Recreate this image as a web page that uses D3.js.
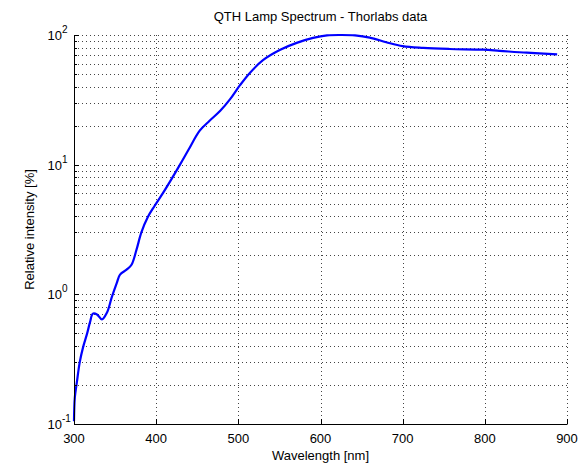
<!DOCTYPE html>
<html>
<head>
<meta charset="utf-8">
<script src="https://cdn.jsdelivr.net/npm/d3@7"></script>
<style>
	body { margin: 0; background: #fff; }
	text { font-family: "Liberation Sans", Arial, sans-serif; fill: #000; }
</style>
</head>
<body>
<div id="idChart"></div>
<script>
// values
var aWavelength = [300, 301, 303.5, 307, 311, 316, 319.5, 323, 328, 334, 340, 346, 352, 356, 364, 370, 376, 382, 390, 398, 408, 419, 429, 439, 453, 465, 478, 490, 502, 514, 530, 551, 571, 591, 608, 625, 642, 660, 680, 700, 725, 757, 798, 818, 851, 888];
var aIntensity = [0.105, 0.16, 0.21, 0.30, 0.39, 0.50, 0.61, 0.71, 0.70, 0.64, 0.72, 0.95, 1.22, 1.42, 1.55, 1.69, 2.2, 3.0, 3.96, 4.8, 6.0, 7.8, 10.0, 12.9, 18.3, 21.8, 26, 32, 41, 51, 64, 77, 87, 95, 99.3, 100, 99.3, 95.5, 88, 82, 79.5, 78, 77, 75.5, 73, 71];
var aXTicks = [300, 400, 500, 600, 700, 800, 900];
var aYExponents = [-1, 0, 1, 2];

var sTitle = "QTH Lamp Spectrum - Thorlabs data";
var sXLabel = "Wavelength [nm]";
var sYLabel = "Relative intensity [%]";

var iWidth = 587;
var iHeight = 466;
var oMargin = {left: 74, right: 20, top: 35, bottom: 42};

var mySvg = d3.select("#idChart").append("svg")
	.attr("width", iWidth)
	.attr("height", iHeight);

var xScale = d3.scaleLinear()
	.domain([300, 900])
	.range([oMargin.left, iWidth - oMargin.right]);

var yScale = d3.scaleLog()
	.domain([0.1, 100])
	.range([iHeight - oMargin.bottom, oMargin.top]);

var iX0 = xScale.range()[0], iX1 = xScale.range()[1];
var iY0 = yScale.range()[0], iY1 = yScale.range()[1];

// all log ticks, major and minor
var aYAll = [];
aYExponents.forEach(function(e) {
	if (e == 2) { aYAll.push(100); return; }
	for (var k = 1; k < 10; k++) aYAll.push(k * Math.pow(10, e));
});

var myGrid = mySvg.append("g")
	.attr("stroke", "#444")
	.attr("stroke-width", 1)
	.attr("stroke-dasharray", "1,3");

myGrid.selectAll(".hgrid")
	.data(aYAll.filter(function(v) { return v > 0.1; }))
	.enter().append("line")
		.attr("class", "hgrid")
		.attr("x1", iX0).attr("x2", iX1)
		.attr("y1", function(v) { return Math.round(yScale(v)) + 0.5; })
		.attr("y2", function(v) { return Math.round(yScale(v)) + 0.5; });

myGrid.selectAll(".vgrid")
	.data(aXTicks.filter(function(v) { return v > 300; }))
	.enter().append("line")
		.attr("class", "vgrid")
		.attr("y1", iY0).attr("y2", iY1)
		.attr("x1", function(v) { return Math.round(xScale(v)) + 0.5; })
		.attr("x2", function(v) { return Math.round(xScale(v)) + 0.5; });

// curve
var myLine = d3.line()
	.x(function(d, i) { return xScale(aWavelength[i]); })
	.y(function(d, i) { return yScale(aIntensity[i]); })
	.curve(d3.curveCatmullRom.alpha(0.5));

mySvg.append("path")
	.datum(aIntensity)
	.attr("fill", "none")
	.attr("stroke", "#0000ff")
	.attr("stroke-width", 2.2)
	.attr("d", myLine);

// axes lines
var myAxes = mySvg.append("g").attr("stroke", "#000").attr("stroke-width", 1);
myAxes.append("line")
	.attr("x1", iX0 + 0.5).attr("x2", iX0 + 0.5)
	.attr("y1", iY1).attr("y2", iY0 + 0.5);
myAxes.append("line")
	.attr("x1", iX0).attr("x2", iX1 + 0.5)
	.attr("y1", iY0 + 0.5).attr("y2", iY0 + 0.5);

// x ticks, pointing inward
myAxes.selectAll(".xtick")
	.data(aXTicks)
	.enter().append("line")
		.attr("class", "xtick")
		.attr("x1", function(v) { return Math.round(xScale(v)) + 0.5; })
		.attr("x2", function(v) { return Math.round(xScale(v)) + 0.5; })
		.attr("y1", iY0).attr("y2", iY0 - 5);

// y ticks, major longer than minor
myAxes.selectAll(".ytick")
	.data(aYAll)
	.enter().append("line")
		.attr("class", "ytick")
		.attr("x1", iX0)
		.attr("x2", function(v) {
			var bMajor = Math.abs(Math.log10(v) - Math.round(Math.log10(v))) < 1e-9;
			return iX0 + (bMajor ? 5 : 3);
		})
		.attr("y1", function(v) { return Math.round(yScale(v)) + 0.5; })
		.attr("y2", function(v) { return Math.round(yScale(v)) + 0.5; });

// tick labels
mySvg.selectAll(".xlabel")
	.data(aXTicks)
	.enter().append("text")
		.attr("class", "xlabel")
		.attr("x", function(v) { return xScale(v); })
		.attr("y", iY0 + 19)
		.attr("text-anchor", "middle")
		.attr("font-size", 13)
		.text(function(v) { return v; });

var myYLabels = mySvg.selectAll(".ylabel")
	.data(aYExponents)
	.enter().append("text")
		.attr("class", "ylabel")
		.attr("x", iX0 - 12)
		.attr("y", function(e) { return yScale(Math.pow(10, e)) + 5; })
		.attr("text-anchor", "end")
		.attr("font-size", 13);
myYLabels.append("tspan").text("10");
mySvg.selectAll(".yexp")
	.data(aYExponents)
	.enter().append("text")
		.attr("class", "yexp")
		.attr("x", iX0 - 12)
		.attr("y", function(e) { return yScale(Math.pow(10, e)) - 2; })
		.attr("font-size", 10)
		.text(function(e) { return e; });

// titles
mySvg.append("text")
	.attr("x", (iX0 + iX1) / 2)
	.attr("y", 21)
	.attr("text-anchor", "middle")
	.attr("font-size", 13)
	.text(sTitle);

mySvg.append("text")
	.attr("x", (iX0 + iX1) / 2)
	.attr("y", iY0 + 36)
	.attr("text-anchor", "middle")
	.attr("font-size", 13)
	.text(sXLabel);

mySvg.append("text")
	.attr("transform", "translate(34," + ((iY0 + iY1) / 2) + ") rotate(-90)")
	.attr("text-anchor", "middle")
	.attr("font-size", 13)
	.text(sYLabel);
</script>
</body>
</html>
